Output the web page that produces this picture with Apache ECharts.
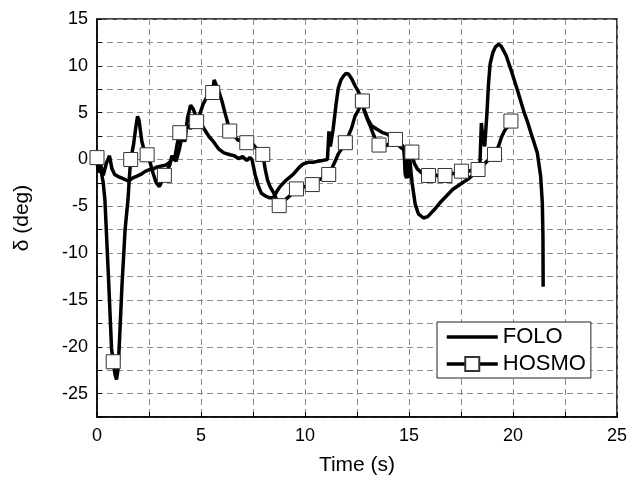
<!DOCTYPE html>
<html>
<head>
<meta charset="utf-8">
<script src="https://cdn.jsdelivr.net/npm/echarts@6/dist/echarts.min.js"></script>
<style>html,body{margin:0;padding:0;background:#fff;}#c{width:630px;height:485px;}</style>
</head>
<body>
<div id="c"></div>
<script>
// ---- data ----
var xTicks = [0, 5, 10, 15, 20, 25];
var yTicks = [-25, -20, -15, -10, -5, 0, 5, 10, 15];

var foloPts = [[0,-0.3],[0.08,-1.4],[0.18,-0.6],[0.3,-1.7],[0.45,-0.4],[0.6,0.4],[0.72,-1.0],[0.85,-1.6],[1.0,-1.8],[1.2,-2.0],[1.5,-2.3],[1.7,-2.0],[1.9,-1.8],[2.1,-1.6],[2.3,-1.3],[2.5,-1.1],[2.7,-1.0],[2.9,-0.8],[3.1,-0.7],[3.3,-0.6],[3.5,-0.3],[3.65,0.3],[3.8,-0.2],[3.95,1.0],[4.1,2.6],[4.22,1.9],[4.35,4.4],[4.5,5.8],[4.62,5.4],[4.8,4.4],[5.0,3.8],[5.2,3.1],[5.4,2.4],[5.6,1.9],[5.86,1.1],[6.1,0.7],[6.4,0.5],[6.6,0.4],[6.8,0.1],[7.0,0.3],[7.2,-0.1],[7.35,0.2],[7.45,0.0],[7.6,-1.6],[7.75,-2.8],[7.9,-3.6],[8.1,-3.9],[8.3,-4.1],[8.48,-4.1],[8.65,-3.4],[8.8,-2.9],[9.1,-2.2],[9.43,-1.6],[9.7,-0.9],[9.9,-0.5],[10.14,-0.3],[10.4,-0.3],[10.6,-0.2],[10.85,-0.1],[11.08,0.0],[11.15,3.0],[11.22,1.4],[11.35,3.2],[11.5,6.0],[11.6,7.6],[11.73,8.5],[11.85,8.9],[11.97,9.2],[12.1,9.1],[12.25,8.6],[12.4,7.9],[12.6,7.1],[12.8,5.6],[13.0,4.4],[13.2,3.6],[13.48,3.2],[13.7,2.9],[13.95,2.7],[14.2,2.4],[14.43,2.1],[14.6,1.7],[14.75,1.3],[14.82,-1.5],[14.88,-2.0],[14.95,0.4],[15.05,-0.3],[15.15,-2.5],[15.3,-4.8],[15.45,-5.8],[15.7,-6.25],[15.9,-6.1],[16.2,-5.4],[16.5,-4.6],[16.8,-3.9],[17.1,-3.2],[17.5,-2.6],[17.84,-2.1],[18.1,-1.6],[18.4,-1.1],[18.48,3.9],[18.56,2.0],[18.64,1.4],[18.75,5.0],[18.82,8.0],[18.9,10.2],[19.03,11.4],[19.15,12.0],[19.3,12.3],[19.43,12.1],[19.67,11.1],[19.9,9.6],[20.2,7.5],[20.54,5.0],[20.7,4.0],[20.86,2.85],[21.0,1.9],[21.17,0.7],[21.33,-1.8],[21.41,-4.6],[21.44,-8.2],[21.45,-13.6]];

var hosmoPts = [[0.1,-0.6],[0.22,-1.5],[0.3,-2.5],[0.38,-4.3],[0.55,-12.5],[0.7,-20.2],[0.87,-23.0],[0.94,-23.5],[1.0,-22.6],[1.05,-20.9],[1.2,-13.5],[1.35,-7.5],[1.49,-4.3],[1.56,-1.8],[1.75,1.5],[1.87,3.5],[1.95,4.6],[2.02,4.2],[2.15,2.0],[2.29,0.75],[2.55,-0.3],[2.7,-1.5],[2.85,-2.5],[3.0,-2.9],[3.1,-2.4],[3.35,-1.2],[3.5,-0.6],[3.6,0.4],[3.72,-0.1],[3.85,1.6],[4.1,3.4],[4.2,2.9],[4.35,3.6],[4.5,3.3],[4.65,3.9],[4.95,4.9],[5.1,5.9],[5.22,6.4],[5.35,7.0],[5.45,7.6],[5.63,8.5],[5.72,8.3],[5.85,7.3],[6.0,6.3],[6.15,5.0],[6.25,4.2],[6.5,2.9],[6.65,2.4],[6.8,2.0],[6.95,2.2],[7.05,1.7],[7.35,1.5],[7.5,1.6],[7.65,1.2],[7.8,1.0],[8.1,-1.2],[8.2,-2.2],[8.32,-2.9],[8.5,-3.6],[8.62,-4.2],[8.95,-4.5],[9.1,-4.2],[9.27,-3.9],[9.42,-3.4],[9.8,-2.9],[10.0,-2.9],[10.15,-2.7],[10.55,-2.3],[10.75,-2.1],[10.95,-1.8],[11.3,-0.9],[11.45,-0.2],[11.6,0.6],[11.78,1.2],[12.1,2.6],[12.25,3.4],[12.4,4.6],[12.55,5.2],[12.85,5.2],[13.0,4.3],[13.15,3.5],[13.3,2.6],[13.45,1.9],[13.75,1.6],[13.95,1.5],[14.15,1.9],[14.5,1.5],[14.65,1.2],[14.78,1.0],[14.84,-1.8],[14.9,1.2],[14.98,-2.0],[15.05,0.2],[15.25,-0.4],[15.4,-1.0],[15.6,-1.4],[15.75,-1.6],[16.2,-1.6],[16.45,-1.8],[17.0,-1.6],[17.25,-1.4],[17.8,-1.3],[18.05,-1.1],[18.55,-0.6],[18.8,-0.1],[18.95,0.2],[19.3,1.4],[19.45,2.4],[19.6,3.1],[19.75,3.5]];

var hosmoMarkers = [[0,0.2],[0.78,-21.6],[1.62,0.0],[2.41,0.5],[3.24,-1.7],[3.98,2.86],[4.79,4.04],[5.56,7.15],[6.38,3.04],[7.2,1.79],[7.97,0.54],[8.76,-4.93],[9.59,-3.14],[10.35,-2.68],[11.14,-1.6],[11.94,1.79],[12.76,6.25],[13.56,1.54],[14.35,2.14],[15.14,0.79],[15.94,-1.71],[16.73,-1.71],[17.52,-1.25],[18.32,-1.07],[19.11,0.54],[19.9,4.1]];

// ---- build series data ----
var hosmoData = hosmoPts.map(function(p){return [p[0],p[1],0];})
  .concat(hosmoMarkers.map(function(p){return [p[0],p[1],1];}))
  .sort(function(a,b){return a[0]-b[0];});

var FONT = 'Liberation Sans, Arial, sans-serif';
function tickFmt(list){return function(v){return list.indexOf(v) >= 0 ? String(v) : '';};}
var dashed = {show:true, lineStyle:{color:'#8c8c8c', type:[6,4], width:1}};

var chart = echarts.init(document.getElementById('c'), null, {renderer:'canvas'});
chart.setOption({
  animation:false,
  backgroundColor:'#fff',
  grid:{left:97, right:8, top:19, bottom:68, show:true, borderColor:'#000', borderWidth:1.5, backgroundColor:'transparent'},
  xAxis:{
    type:'value', min:0, max:25, interval:2.5,
    name:'Time (s)', nameLocation:'middle', nameGap:38,
    nameTextStyle:{fontSize:21, color:'#000', fontFamily:FONT},
    axisLine:{show:true, onZero:false, lineStyle:{color:'#000', width:1.5}},
    axisTick:{show:true, inside:true, length:5, lineStyle:{color:'#000', width:1}},
    axisLabel:{formatter:tickFmt(xTicks), fontSize:18, color:'#000', fontFamily:FONT, margin:10},
    splitLine:dashed
  },
  yAxis:{
    type:'value', min:-27.5, max:15, interval:2.5,
    name:'δ (deg)', nameLocation:'middle', nameGap:64,
    nameTextStyle:{fontSize:21, color:'#000', fontFamily:FONT},
    axisLine:{show:true, onZero:false, lineStyle:{color:'#000', width:1.5}},
    axisTick:{show:true, inside:true, length:5, lineStyle:{color:'#000', width:1}},
    axisLabel:{formatter:tickFmt(yTicks), fontSize:18, color:'#000', fontFamily:FONT, margin:9},
    splitLine:dashed
  },
  legend:{
    orient:'vertical', left:437, top:322,
    padding:[4,5,3,8], itemGap:5, itemWidth:51, itemHeight:17.5,
    backgroundColor:'#fff', borderColor:'#222', borderWidth:1, borderRadius:0,
    textStyle:{fontSize:22, color:'#000', fontFamily:FONT},
    data:[{name:'FOLO', icon:'path://M0,0H51V3.5H0Z', itemStyle:{color:'#000', borderWidth:0}},
          {name:'HOSMO', lineStyle:{width:3.5, color:'#000'}}]
  },
  series:[
    {name:'FOLO', type:'line', data:foloPts, symbol:'none', showSymbol:false,
     lineStyle:{color:'#000', width:3.5}, itemStyle:{color:'#000'}, z:2},
    {name:'HOSMO', type:'line', data:hosmoData, symbol:'rect', showAllSymbol:true,
     symbolSize:function(v){return v[2] ? 14 : 0;},
     lineStyle:{color:'#000', width:3.5},
     itemStyle:{color:'#fff', borderColor:'#333', borderWidth:1}, z:3}
  ]
});
</script>
</body>
</html>
